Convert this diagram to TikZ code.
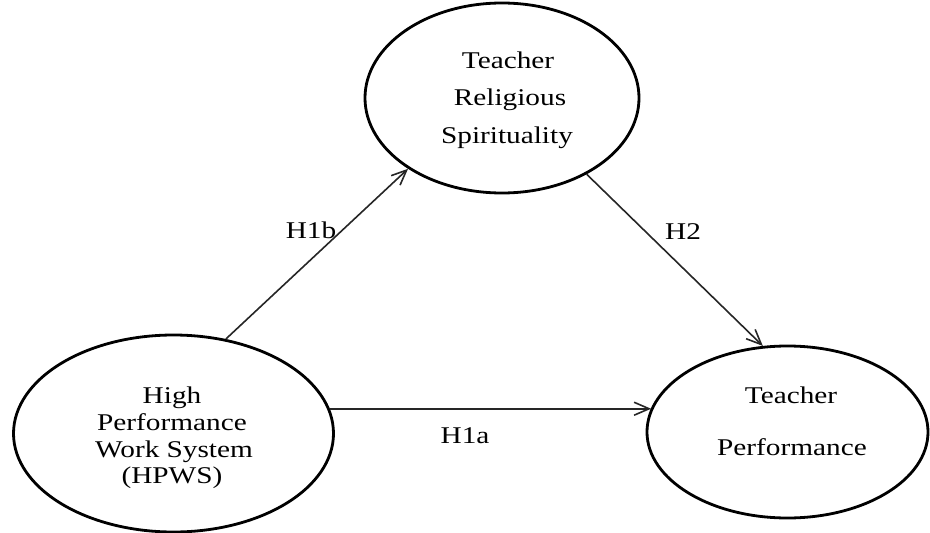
\documentclass[tikz,border=0pt]{standalone}
\usepackage{fontspec}
\setmainfont[FakeStretch=1.22]{Liberation Serif}
\usetikzlibrary{shapes.geometric,arrows.meta}
\begin{document}
\begin{tikzpicture}[x=1pt,y=-1pt,
  construct/.style={draw=black,line width=2.8pt,ellipse,inner sep=0pt},
  txt/.style={anchor=base,inner sep=0pt,font=\fontsize{24}{28}\selectfont},
  path/.style={draw=black!85,line width=1.6pt,-{Straight Barb[length=15pt,width=13pt,line width=1.6pt]}}]
\useasboundingbox[fill=white] (0,0) rectangle (930,533);
\node[construct,minimum width=274pt,minimum height=190pt] (trs) at (502,98) {};
\node[construct,minimum width=320pt,minimum height=197pt] (hpws) at (173.5,433.5) {};
\node[construct,minimum width=281pt,minimum height=172pt] (tp) at (787.5,432) {};
\node[txt] (t1) at (508,68) {Teacher};
\node[txt] (t2) at (510,105) {Religious};
\node[txt] (t3) at (507,143) {Spirituality};
\node[txt] (l1) at (172,403) {High};
\node[txt] (l2) at (172,430) {Performance};
\node[txt] (l3) at (174,457) {Work System};
\node[txt] (l4) at (172,483) {(HPWS)};
\node[txt] (r1) at (791,403) {Teacher};
\node[txt] (r2) at (792,455) {Performance};
\node[txt] (h1b) at (311,238) {H1b};
\node[txt] (h2) at (683,239) {H2};
\node[txt] (h1a) at (465,443) {H1a};
\draw[path] (hpws.61) -- (trs.217.9);
\draw[path] (trs.-42.2) -- (tp.106.3);
\draw[path] (hpws.9.2) -- (hpws.9.2 -| tp.170.6);
\end{tikzpicture}
\end{document}
